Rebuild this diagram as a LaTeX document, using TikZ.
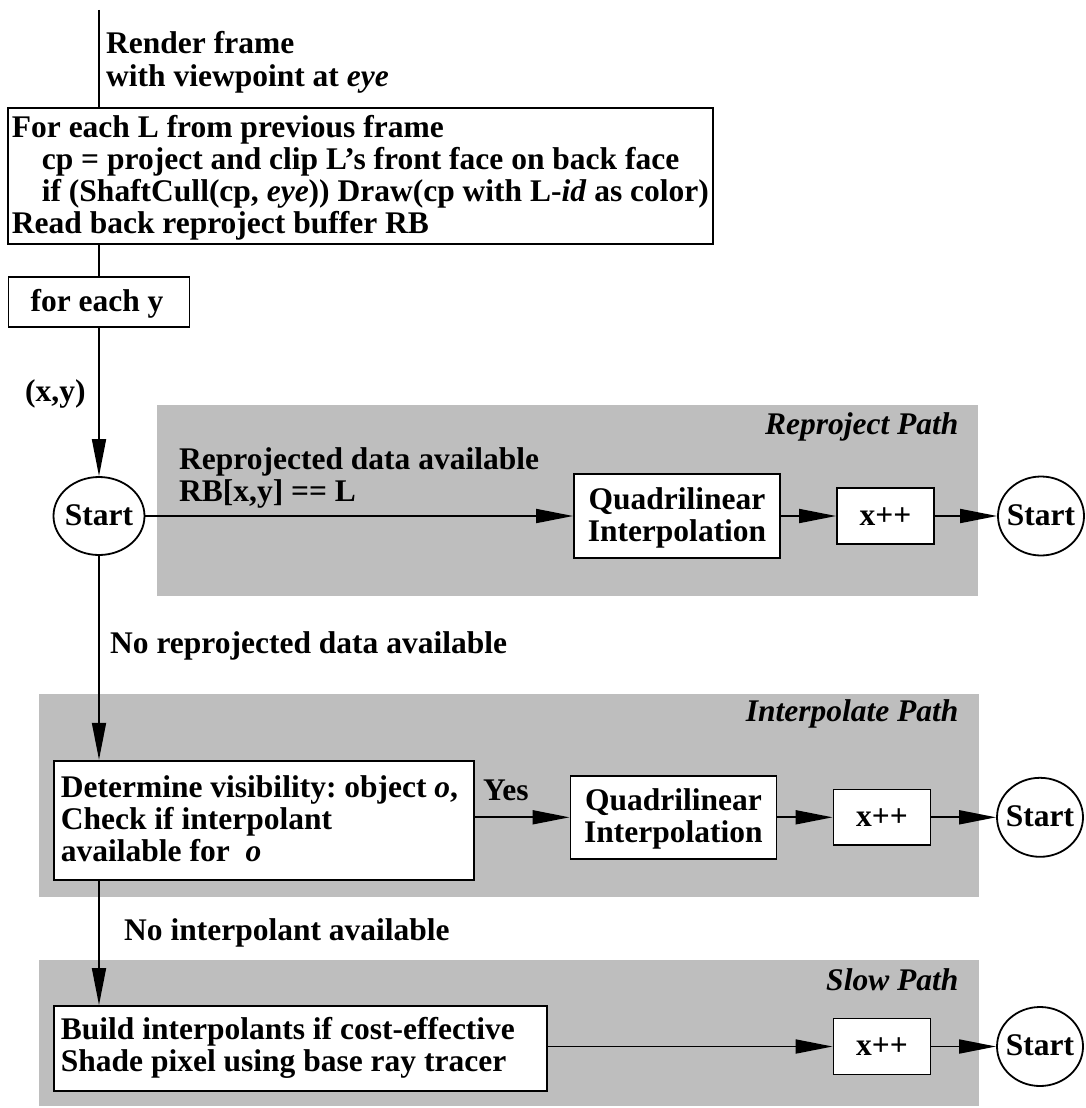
\documentclass[tikz,border=0pt]{standalone}
\usepackage{fontspec}
\setmainfont{Liberation Serif}
\usetikzlibrary{arrows.meta,shapes.geometric}
\definecolor{pathgray}{RGB}{190,190,190}
\frenchspacing
\newcommand{\twolinecenter}[3]{\vtop{\baselineskip=32pt\hbox to #1{\hfil #2\hfil}\hbox to #1{\hfil #3\hfil}}}
\begin{document}
\begin{tikzpicture}[x=1pt,y=-1pt,
  every node/.style={font=\fontsize{31.5pt}{32.5pt}\selectfont\bfseries, inner sep=0pt},
  lbl/.style={anchor=base west},
  ctr/.style={anchor=base},
  ttl/.style={anchor=base east, font=\fontsize{31.5pt}{32.5pt}\selectfont\bfseries\itshape},
  boxnode/.style={draw, fill=white, line width=1.8pt, rectangle},
  oval/.style={draw, fill=white, line width=1.8pt, ellipse},
  conn/.style={line width=1.8pt},
  arr/.style={conn, -{Triangle[length=37pt,width=14pt]}}
]
\useasboundingbox (0,0) rectangle (1086,1108);

% shaded zones
\fill[pathgray] (157,405) rectangle (978,596);
\fill[pathgray] (39,694) rectangle (979,897);
\fill[pathgray] (39,960) rectangle (979,1106);

% top part
\coordinate (top) at (99,10);
\node[lbl] (render) at (106,53) {\vtop{\baselineskip=33pt\hbox{Render frame}\hbox{with viewpoint at \textit{eye}}}};

\node[boxnode, minimum width=704.4pt, minimum height=136pt] (b1) at (360.5,176.3) {};
\node[lbl] (b1t) at (11.7,137) {\vtop{\baselineskip=32pt
  \hbox{For each L from previous frame}
  \hbox{\hskip30pt cp = project and clip L’s front face on back face}
  \hbox{\hskip30pt if (ShaftCull(cp, \textit{eye})) Draw(cp with L-\textit{id} as color)}
  \hbox{Read back reproject buffer RB}}};

\node[boxnode, minimum width=181pt, minimum height=50.6pt] (b2) at (99,302) {};
\node[ctr] (b2t) at (97,311.7) {for each y};

\node[lbl] (xy) at (25,401.7) {(x,y)};

% reproject row
\node[oval, minimum width=91pt, minimum height=78pt] (e1) at (99,516) {};
\node[ctr] (e1t) at (99,525) {Start};
\node[ttl] (t1) at (958.6,434) {Reproject Path};
\node[lbl] (rd) at (179,469) {\vtop{\baselineskip=32pt\hbox{Reprojected data available}\hbox{RB[x,y] == L}}};
\node[boxnode, minimum width=206pt, minimum height=83.5pt] (q1) at (677,516) {};
\node[ctr] (q1t) at (677,509.3) {\twolinecenter{206pt}{Quadrilinear}{Interpolation}};
\node[boxnode, minimum width=97pt, minimum height=56.3pt] (x1) at (885.5,516) {};
\node[ctr] (x1t) at (885.5,525.5) {x++};
\node[oval, minimum width=86pt, minimum height=79pt] (s1) at (1041,516) {};
\node[ctr] (s1t) at (1041,525.5) {Start};

\node[lbl] (nrd) at (110,653) {No reprojected data available};

% interpolate row
\node[ttl] (t2) at (958.6,721.7) {Interpolate Path};
\node[boxnode, minimum width=419.7pt, minimum height=119.3pt] (det) at (264.2,820.3) {};
\node[lbl] (dett) at (60.7,797.3) {\vtop{\baselineskip=32pt
  \hbox{Determine visibility: object \textit{o},}
  \hbox{Check if interpolant}
  \hbox{available for\ \ \textit{o}}}};
\node[lbl] (yes) at (483,800) {Yes};
\node[boxnode, minimum width=206pt, minimum height=83.3pt] (q2) at (673.4,817.3) {};
\node[ctr] (q2t) at (673.4,810.3) {\twolinecenter{206pt}{Quadrilinear}{Interpolation}};
\node[boxnode, minimum width=97pt, minimum height=55.7pt] (x2) at (882,817.3) {};
\node[ctr] (x2t) at (882,826.5) {x++};
\node[oval, minimum width=86pt, minimum height=79pt] (s2) at (1040,817.3) {};
\node[ctr] (s2t) at (1040,826.5) {Start};

\node[lbl] (nia) at (124,940.5) {No interpolant available};

% slow row
\node[ttl] (t3) at (958.6,990.5) {Slow Path};
\node[boxnode, minimum width=492.7pt, minimum height=84.7pt] (build) at (300.7,1048.3) {};
\node[lbl] (buildt) at (60.7,1039.5) {\vtop{\baselineskip=32pt
  \hbox{Build interpolants if cost-effective}
  \hbox{Shade pixel using base ray tracer}}};
\node[boxnode, minimum width=97pt, minimum height=56pt] (x3) at (882,1046.5) {};
\node[ctr] (x3t) at (882,1055.5) {x++};
\node[oval, minimum width=86pt, minimum height=79pt] (s3) at (1040,1046.5) {};
\node[ctr] (s3t) at (1040,1055.7) {Start};

% connectors
\draw[conn] (top) -- (top |- b1.north);
\draw[conn] (b2.north |- b1.south) -- (b2.north);
\draw[arr] (b2.south) -- (e1.north);
\draw[arr] (e1.east) -- (q1.west);
\draw[arr] (q1.east) -- (x1.west);
\draw[arr] (x1.east) -- (s1.west);
\draw[arr] (e1.south) -- (e1.south |- det.north);
\draw[arr] (det.east |- q2.west) -- (q2.west);
\draw[arr] (q2.east) -- (x2.west);
\draw[arr] (x2.east) -- (s2.west);
\draw[arr] (det.south -| e1.south) -- (build.north -| e1.south);
\draw[arr] (build.east |- x3.west) -- (x3.west);
\draw[arr] (x3.east) -- (s3.west);
\end{tikzpicture}
\end{document}
